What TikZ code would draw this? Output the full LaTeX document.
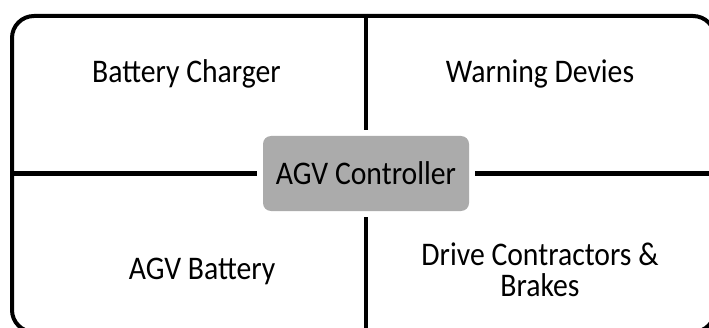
\documentclass[tikz,border=0pt]{standalone}
\usepackage{fontspec}
\setmainfont{Carlito}[FakeStretch=0.9]
\usepackage{tikz}
\usetikzlibrary{positioning}

\begin{document}
\begin{tikzpicture}[x=1pt,y=1pt]
  \tikzset{
    frame/.style={draw=black, line width=4pt, rounded corners=22pt, minimum width=703pt, minimum height=316pt, inner sep=0pt},
    ctrlbox/.style={fill=black!33, rounded corners=8pt, minimum width=206pt, minimum height=75pt, inner sep=0pt, font=\fontsize{33}{31}\selectfont},
    bar/.style={black, line width=4pt, shorten >=6pt},
    label/.style={font=\fontsize{33}{31}\selectfont, align=center, inner sep=0pt}
  }

  % page size
  \useasboundingbox (0,0) rectangle (709,327);
  \clip (0,0) rectangle (709,327);

  % outer frame and controller
  \node[frame] (frame) at (363.5,153) {};
  \node[ctrlbox] (ctrl) at (366,153.5) {AGV Controller};

  % dividers
  \draw[bar] (frame.north -| ctrl) -- (ctrl);
  \draw[bar] (frame.south -| ctrl) -- (ctrl);
  \draw[bar] (frame.west |- ctrl) -- (ctrl);
  \draw[bar] (frame.east |- ctrl) -- (ctrl);

  % quadrant labels
  \node[label, anchor=base] (charger) at (186.5,244) {Battery Charger};
  \node[label, anchor=base] (warning) at (540,244) {Warning Devies};
  \node[label, anchor=base] (battery) at (202,48) {AGV Battery};
  \node[label] (drive) at (540,57) {Drive Contractors \&\\Brakes};

\end{tikzpicture}
\end{document}
